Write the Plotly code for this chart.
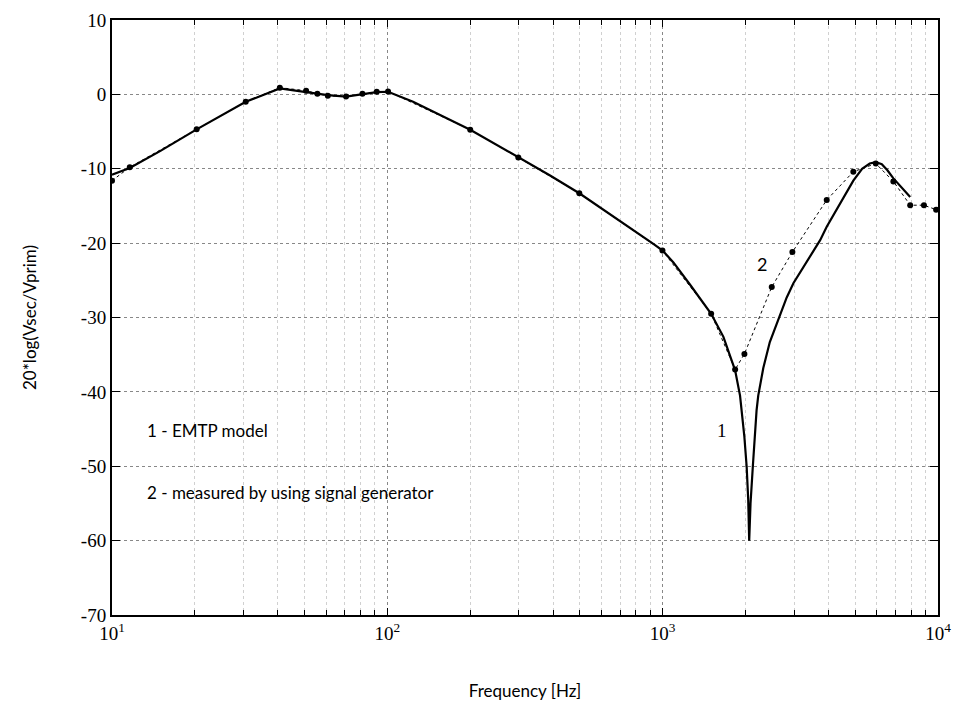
import plotly.graph_objects as go

# EMTP model (curve 1)
model_freq = [10, 11.6, 15, 20.3, 30.6, 40.7, 50.7, 60.8, 70.8, 81.2, 91.5, 100.6, 124,
              200, 300, 390, 498, 700, 925, 1000, 1094, 1258, 1500, 1662, 1833,
              1910, 1937, 1980, 2019, 2045, 2062, 2085, 2125, 2160, 2193, 2224, 2320, 2450,
              2631, 2822, 2984, 3732, 3943, 4926, 5300, 5650, 5943, 6250, 6550, 6886, 7925]
model_db = [-10.8, -9.9, -7.6, -4.7, -1.0, 0.8, 0.3, -0.1, -0.3, 0.0, 0.3, 0.35, -1.0,
            -4.75, -8.5, -10.9, -13.3, -17.0, -20.1, -21.0, -22.6, -25.6, -29.5, -32.6, -37.1,
            -40.5, -42.5, -46.0, -50.1, -54.5, -60.0, -55.0, -50.1, -45.5, -42.5, -40.5, -36.8, -33.3,
            -30.4, -27.3, -25.4, -19.6, -17.8, -11.6, -10.0, -9.3, -9.1, -9.4, -10.2, -11.3, -13.8]

# Measured by signal generator (curve 2)
meas_freq = [10, 11.6, 20.3, 30.6, 40.7, 50.7, 55.7, 60.8, 70.8, 81.2, 91.5, 100.6,
             200, 299, 498, 998, 1500, 1833, 1981, 2490, 2959, 3943, 4926, 5943,
             6886, 7925, 8892, 9843]
meas_db = [-11.6, -9.8, -4.7, -1.0, 0.9, 0.5, 0.1, -0.2, -0.3, 0.1, 0.35, 0.4,
           -4.75, -8.5, -13.3, -21.0, -29.5, -37.0, -34.9, -25.9, -21.2, -14.2, -10.4, -9.3,
           -11.7, -14.9, -14.9, -15.5]

x_tickvals = [10, 100, 1000, 10000]
x_ticktext = ["10<sup>1</sup>", "10<sup>2</sup>", "10<sup>3</sup>", "10<sup>4</sup>"]
y_tickvals = [10, 0, -10, -20, -30, -40, -50, -60, -70]
y_ticktext = ["10", "0", "-10", "-20", "-30", "-40", "-50", "-60", "-70"]

fig = go.Figure()
fig.add_trace(go.Scatter(x=meas_freq, y=meas_db, mode="lines+markers",
                         line=dict(color="black", width=1, dash="dot"),
                         marker=dict(color="black", size=6), showlegend=False))
fig.add_trace(go.Scatter(x=model_freq, y=model_db, mode="lines",
                         line=dict(color="black", width=2.2), showlegend=False))

serif = "Liberation Serif"
sans = "Lato"

L, R, T, B = 112, 938, 20, 615
ann = [
    dict(text="1 - EMTP model", px=145, py=430, fam=sans, size=17),
    dict(text="2 - measured by using signal generator", px=145, py=492, fam=sans, size=17),
    dict(text="1", px=715, py=430, fam=serif, size=19),
    dict(text="2", px=755, py=264, fam=sans, size=18),
]
for a in ann:
    fig.add_annotation(x=(a["px"] - L) / (R - L), y=(B - a["py"]) / (B - T),
                       xref="paper", yref="paper", text=a["text"], showarrow=False,
                       xanchor="left", yanchor="middle",
                       font=dict(family=a["fam"], size=a["size"], color="black"))

fig.update_layout(
    width=953, height=703,
    margin=dict(l=L, r=953 - R, t=T, b=703 - B),
    paper_bgcolor="white", plot_bgcolor="white",
    xaxis=dict(type="log", range=[1, 4], tickvals=x_tickvals, ticktext=x_ticktext,
               automargin=False,
               ticks="inside", ticklen=7, tickcolor="black", mirror="allticks",
               showline=True, linecolor="black", linewidth=2,
               showgrid=True, gridcolor="#888", griddash="dot", gridwidth=1,
               tickfont=dict(family=serif, size=19, color="black"),
               minor=dict(dtick="D1", ticks="inside", ticklen=5, tickcolor="black",
                          showgrid=True, gridcolor="#d0d0d0", griddash="dot"),
               title=dict(text="Frequency [Hz]", font=dict(family=sans, size=17, color="black"),
                          standoff=42),
               zeroline=False),
    yaxis=dict(range=[-70, 10], tickvals=y_tickvals, ticktext=y_ticktext, ticks="inside", ticklen=8,
               automargin=False,
               tickcolor="black", mirror="allticks",
               showline=True, linecolor="black", linewidth=2,
               showgrid=True, gridcolor="#888", griddash="dot", gridwidth=1,
               tickfont=dict(family=serif, size=19, color="black"),
               title=dict(text="20*log(Vsec/Vprim)", font=dict(family=sans, size=17, color="black"),
                          standoff=40),
               zeroline=False),
)

fig.write_html("out.html")
